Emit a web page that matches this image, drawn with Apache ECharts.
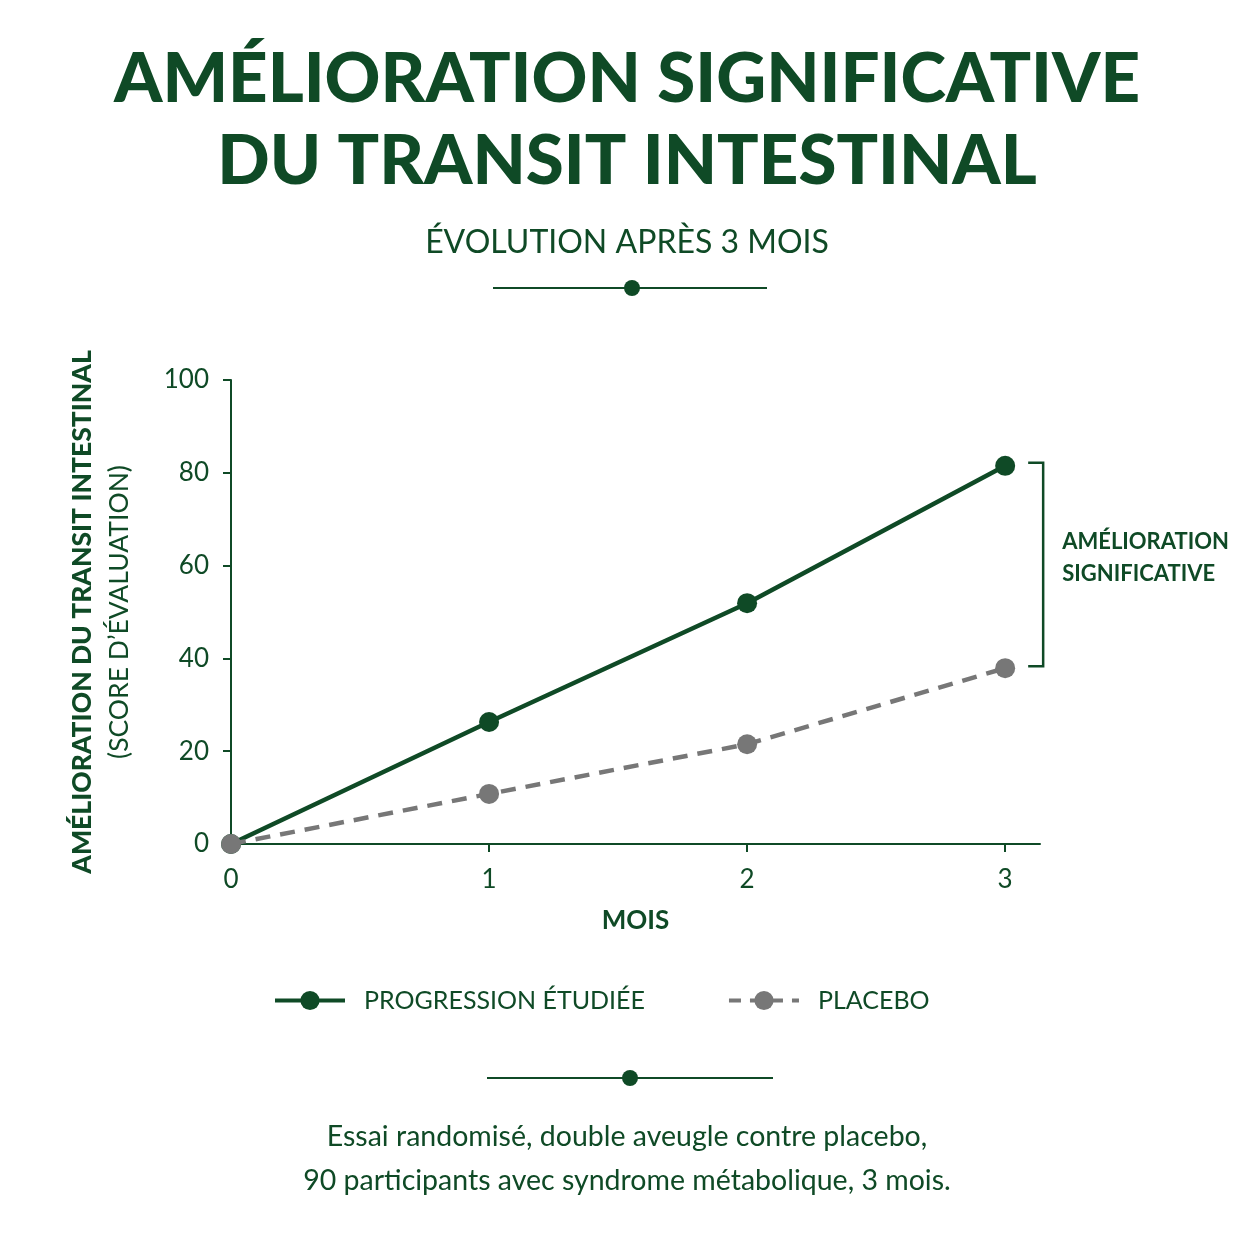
<!DOCTYPE html>
<html>
<head>
<meta charset="utf-8">
<script src="https://cdn.jsdelivr.net/npm/echarts@6/dist/echarts.min.js"></script>
<style>
html,body{margin:0;padding:0;background:#fff;}
#chart{width:1254px;height:1254px;}
</style>
</head>
<body>
<div id="chart"></div>
<script>
const months = [0, 1, 2, 3];
const progression = [0, 26.3, 51.9, 81.5];
const placebo = [0, 10.8, 21.5, 37.9];
const yTicks = [0, 20, 40, 60, 80, 100];
const seriesNames = ['PROGRESSION ÉTUDIÉE', 'PLACEBO'];
const bracketLabel = 'AMÉLIORATION\nSIGNIFICATIVE';

const GREEN = '#0f4a26';
const GREY = '#777777';
const FONT = 'Lato';

const chart = echarts.init(document.getElementById('chart'));

const option = {
  animation: false,
  backgroundColor: '#ffffff',
  title: [
    {
      text: 'AMÉLIORATION SIGNIFICATIVE\nDU TRANSIT INTESTINAL',
      left: 'center', top: 34,
      textStyle: { color: GREEN, fontFamily: FONT, fontWeight: 900, fontSize: 69, lineHeight: 82 }
    },
    {
      text: 'ÉVOLUTION APRÈS 3 MOIS',
      left: 'center', top: 222,
      textStyle: { color: GREEN, fontFamily: FONT, fontWeight: 400, fontSize: 32 }
    },
    {
      text: 'Essai randomisé, double aveugle contre placebo,\n90 participants avec syndrome métabolique, 3 mois.',
      left: 'center', top: 1110,
      textStyle: { color: GREEN, fontFamily: FONT, fontWeight: 400, fontSize: 28.5, lineHeight: 44 }
    }
  ],
  graphic: [
    { type: 'line', shape: { x1: 493, y1: 288, x2: 767, y2: 288 }, style: { stroke: GREEN, lineWidth: 2 } },
    { type: 'circle', shape: { cx: 632, cy: 288, r: 8 }, style: { fill: GREEN } },
    { type: 'line', shape: { x1: 487, y1: 1078, x2: 773, y2: 1078 }, style: { stroke: GREEN, lineWidth: 2 } },
    { type: 'circle', shape: { cx: 630, cy: 1078, r: 8 }, style: { fill: GREEN } }
  ],
  legend: {
    data: [
      { name: seriesNames[0], lineStyle: { width: 4, color: GREEN } },
      { name: seriesNames[1], lineStyle: { width: 4, color: GREY, type: [12, 9] } }
    ],
    left: 268, top: 983,
    itemWidth: 70, itemHeight: 24,
    itemGap: 82,
    textStyle: { color: GREEN, fontFamily: FONT, fontSize: 25, padding: [0, 0, 0, 14] }
  },
  grid: { left: 231, top: 380, right: 214, bottom: 410, containLabel: false },
  xAxis: {
    type: 'value',
    min: 0, max: 3.135, interval: 1,
    name: 'MOIS',
    nameLocation: 'middle',
    nameGap: 64,
    nameTextStyle: { color: GREEN, fontFamily: FONT, fontWeight: 700, fontSize: 26 },
    axisLine: { lineStyle: { color: GREEN, width: 2 } },
    axisTick: { show: true, length: 8, lineStyle: { color: GREEN, width: 2 }, customValues: months },
    axisLabel: { color: GREEN, fontFamily: FONT, fontSize: 26, margin: 23, customValues: months },
    splitLine: { show: false }
  },
  yAxis: {
    type: 'value',
    min: 0, max: 100, interval: 20,
    name: '{a|AMÉLIORATION DU TRANSIT INTESTINAL}\n{b|(SCORE D’ÉVALUATION)}',
    nameLocation: 'middle',
    nameRotate: 90,
    nameGap: 93,
    nameTextStyle: {
      color: GREEN, fontFamily: FONT,
      rich: {
        a: { color: GREEN, fontFamily: FONT, fontWeight: 900, fontSize: 26.5, lineHeight: 37 },
        b: { color: GREEN, fontFamily: FONT, fontWeight: 400, fontSize: 26.5, lineHeight: 37 }
      }
    },
    axisLine: { show: true, lineStyle: { color: GREEN, width: 2 } },
    axisTick: { show: true, length: 8, lineStyle: { color: GREEN, width: 2 } },
    axisLabel: { color: GREEN, fontFamily: FONT, fontSize: 26, margin: 22,
      customValues: yTicks },
    splitLine: { show: false }
  },
  series: [
    {
      name: seriesNames[0],
      type: 'line',
      data: months.map((m, i) => [m, progression[i]]),
      symbol: 'circle', symbolSize: 20,
      lineStyle: { color: GREEN, width: 4.5 },
      itemStyle: { color: GREEN },
      z: 3
    },
    {
      name: seriesNames[1],
      type: 'line',
      data: months.map((m, i) => [m, placebo[i]]),
      symbol: 'circle', symbolSize: 20,
      lineStyle: { color: GREY, width: 4.5, type: [15, 10] },
      itemStyle: { color: GREY },
      z: 4
    },
    {
      name: 'bracket',
      type: 'custom',
      clip: false,
      silent: true,
      data: [[months[3], progression[3], placebo[3]]],
      renderItem: function (params, api) {
        const p1 = api.coord([api.value(0), api.value(1)]);
        const p2 = api.coord([api.value(0), api.value(2)]);
        const bx = p1[0] + 38;
        const yTop = p1[1] - 3;
        const yBot = p2[1] - 2;
        return {
          type: 'group',
          children: [
            {
              type: 'polyline',
              shape: { points: [[bx - 15, yTop], [bx, yTop], [bx, yBot], [bx - 15, yBot]] },
              style: { stroke: GREEN, lineWidth: 2.5, fill: null }
            },
            {
              type: 'text',
              style: {
                text: bracketLabel,
                x: bx + 19, y: (yTop + yBot) / 2 - 7,
                fill: GREEN, fontFamily: FONT, fontWeight: 700, fontSize: 22,
                lineHeight: 32, align: 'left', verticalAlign: 'middle'
              }
            }
          ]
        };
      }
    }
  ]
};
chart.setOption(option);
</script>
</body>
</html>
